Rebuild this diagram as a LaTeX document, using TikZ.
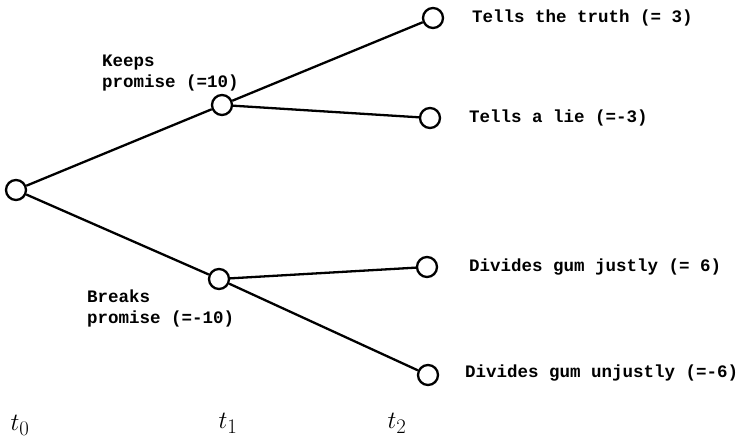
\documentclass[tikz,border=0pt]{standalone}
\usepackage{fontspec}
\newfontfamily\tw{Liberation Mono Bold}
\begin{document}
\begin{tikzpicture}[x=1pt,y=-1pt,
  st/.style={circle,draw,line width=2.3pt,minimum size=20pt,inner sep=0pt,fill=white},
  edge/.style={line width=2.3pt},
  lbl/.style={font=\tw\fontsize{17.5}{21}\selectfont,anchor=west,inner sep=0pt,align=left},
  tl/.style={font=\fontsize{30}{30}\selectfont,inner sep=0pt}]
\useasboundingbox (0,0) rectangle (745,441);
\node[st] (r) at (16,190) {};
\node[st] (a) at (222,105) {};
\node[st] (b) at (219,279) {};
\node[st] (l1) at (433,18) {};
\node[st] (l2) at (430,118) {};
\node[st] (l3) at (427,267) {};
\node[st] (l4) at (428,375) {};
\draw[edge] (r) -- (a);
\draw[edge] (r) -- (b);
\draw[edge] (a) -- (l1);
\draw[edge] (a) -- (l2);
\draw[edge] (b) -- (l3);
\draw[edge] (b) -- (l4);
\node[lbl] (t1) at (472,18) {Tells the truth (= 3)};
\node[lbl] (t2) at (469,118) {Tells a lie (=-3)};
\node[lbl] (t3) at (469,267) {Divides gum justly (= 6)};
\node[lbl] (t4) at (465,373) {Divides gum unjustly (=-6)};
\node[lbl] (k) at (102,73) {Keeps\\promise (=10)};
\node[lbl] (bk) at (87,308) {Breaks\\promise (=-10)};
\node[tl] (x0) at (20,425) {$t_0$};
\node[tl] (x1) at (228,423) {$t_1$};
\node[tl] (x2) at (397,423) {$t_2$};
\end{tikzpicture}
\end{document}
